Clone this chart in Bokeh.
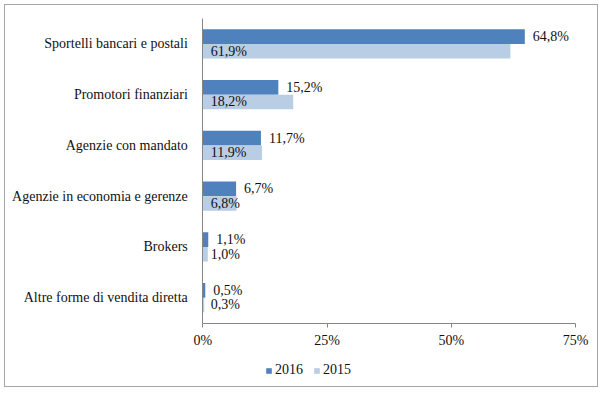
from bokeh.plotting import figure
from bokeh.models import ColumnDataSource, Range1d, Legend, LegendItem, FixedTicker, LinearAxis
from bokeh.transform import dodge
from bokeh.core.properties import value
from bokeh.embed import file_html
from bokeh.resources import INLINE

categories = ["Sportelli bancari e postali", "Promotori finanziari", "Agenzie con mandato",
              "Agenzie in economia e gerenze", "Brokers", "Altre forme di vendita diretta"]
values_2016 = [64.8, 15.2, 11.7, 6.7, 1.1, 0.5]
values_2015 = [61.9, 18.2, 11.9, 6.8, 1.0, 0.3]
series_names = ["2016", "2015"]
x_ticks = [0, 25, 50, 75]
x_tick_labels = ["0%", "25%", "50%", "75%"]

FONT = "'Liberation Serif', serif"
FS = "14px"
C2016 = "#4F81BD"
C2015 = "#B9CDE5"
AXIS_C = "#868686"
TXT_C = "#111111"

n = len(categories)
ypos = list(range(n - 1, -1, -1))  # first category at the top


def fmt(v):
    return f"{v:.1f}".replace(".", ",") + "%"


src = ColumnDataSource(dict(
    y=ypos,
    v2016=values_2016,
    v2015=values_2015,
    zero=[0] * n,
    l2016=[fmt(v) for v in values_2016],
    l2015=[fmt(v) for v in values_2015],
))

# pixel layout (content box 594 x 383, border drawn by CSS)
W, H = 594, 383
X0_PX, X75_PX = 197.3, 570.0      # where 0% and 75% fall
Y_TOP_PX, Y_AX_PX = 13.0, 317.5   # top of category area and x-axis line
xu = (X75_PX - X0_PX) / 75.0
yu = (Y_AX_PX - Y_TOP_PX) / n
x_lo = -X0_PX / xu
x_hi = 75 + (W - X75_PX) / xu
y_hi = n - 0.5 + Y_TOP_PX / yu
y_lo = -0.5 - (H - Y_AX_PX) / yu

p = figure(
    width=W, height=H,
    x_range=Range1d(x_lo, x_hi), y_range=Range1d(y_lo, y_hi),
    x_axis_type=None, y_axis_type=None,
    output_backend="svg", toolbar_location=None,
    min_border=0,
)
p.styles = {"border": "1px solid #a6a6a6", "margin-left": "4px", "margin-top": "4px"}
p.outline_line_color = None
p.xgrid.grid_line_color = None
p.ygrid.grid_line_color = None

bh = 0.286
r16 = p.hbar(y=dodge("y", bh / 2), right="v2016", left=0, height=bh,
             source=src, fill_color=C2016, line_color=None)
r15 = p.hbar(y=dodge("y", -bh / 2), right="v2015", left=0, height=bh,
             source=src, fill_color=C2015, line_color=None)

p.text(x="v2016", y=dodge("y", bh / 2), text="l2016", source=src,
       x_offset=8, text_baseline="middle", text_align="left",
       text_font=value(FONT), text_font_size=FS, text_color=TXT_C)
p.text(x="zero", y=dodge("y", -bh / 2), text="l2015", source=src,
       x_offset=8, text_baseline="middle", text_align="left",
       text_font=value(FONT), text_font_size=FS, text_color=TXT_C)

xa = LinearAxis(fixed_location=-0.5, bounds=(0, 75))
xa.ticker = FixedTicker(ticks=x_ticks)
xa.major_label_overrides = {t: l for t, l in zip(x_ticks, x_tick_labels)}
xa.axis_line_color = AXIS_C
xa.major_tick_line_color = AXIS_C
xa.major_tick_in = 0
xa.major_tick_out = 4
xa.minor_tick_line_color = None
xa.major_label_standoff = 6
xa.major_label_text_font = FONT
xa.major_label_text_font_size = FS
xa.major_label_text_color = TXT_C
p.add_layout(xa, "below")

ya = LinearAxis(fixed_location=0, bounds=(-0.5, n - 0.5))
ya.ticker = FixedTicker(ticks=ypos)
ya.major_label_overrides = {y: c for y, c in zip(ypos, categories)}
ya.axis_line_color = AXIS_C
ya.major_tick_line_color = None
ya.minor_tick_line_color = None
ya.major_label_standoff = 9
ya.major_label_text_font = FONT
ya.major_label_text_font_size = FS
ya.major_label_text_color = TXT_C
p.add_layout(ya, "left")

legend = Legend(
    items=[LegendItem(label=series_names[0], renderers=[r16]),
           LegendItem(label=series_names[1], renderers=[r15])],
    orientation="horizontal", location=(260, 10),
    glyph_width=7, glyph_height=7, label_standoff=3, spacing=10,
    padding=0, margin=0, border_line_color=None, background_fill_alpha=0,
    label_text_font=FONT, label_text_font_size=FS, label_text_color=TXT_C,
)
p.add_layout(legend, "center")

open("out.html", "w").write(file_html(p, INLINE))
